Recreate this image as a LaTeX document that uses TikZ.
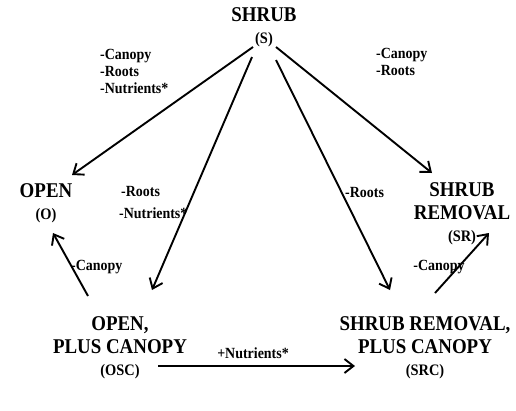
\documentclass[tikz,border=0pt]{standalone}
\usepackage{fontspec}
\setmainfont[FakeStretch=0.9]{Liberation Serif}
\usetikzlibrary{arrows.meta, positioning}

\begin{document}
\begin{tikzpicture}[
        x=1pt, y=-1pt,
        font=\bfseries,
        state/.style={align=center, inner sep=0pt, font=\bfseries\fontsize{21}{22.5}\selectfont},
        abbr/.style={},
        effect/.style={align=left, inner sep=0pt, font=\bfseries\fontsize{15.5}{17}\selectfont},
        arr/.style={line width=1.9pt, -{Straight Barb[length=9pt, width=14pt, line width=1.9pt]}}
    ]
    \useasboundingbox (0,0) rectangle (516,410);

    % --- Nodes ---
    \node[state] (s) at (264,27) {SHRUB\\{\fontsize{16}{22.5}\selectfont (S)}};
    \node[state] (o) at (46,203) {OPEN\\{\fontsize{16}{22.5}\selectfont (O)}};
    \node[state] (sr) at (462,214) {SHRUB\\REMOVAL\\{\fontsize{16}{22.5}\selectfont (SR)}};
    \node[state] (osc) at (120,348) {OPEN,\\PLUS CANOPY\\{\fontsize{16}{22.5}\selectfont (OSC)}};
    \node[state] (src) at (425,348) {SHRUB REMOVAL,\\PLUS CANOPY\\{\fontsize{16}{22.5}\selectfont (SRC)}};

    % --- Connections ---
    \draw[arr] ([shift={(-11,20)}]s.center) -- ([shift={(26,-28)}]o.center);
    \draw[arr] ([shift={(-12,30)}]s.center) -- ([shift={(32,-58)}]osc.center);
    \draw[arr] ([shift={(12,33)}]s.center) -- ([shift={(-35,-58)}]src.center);
    \draw[arr] ([shift={(12,20)}]s.center) -- ([shift={(-30,-41)}]sr.center);
    \draw[arr] ([shift={(-32,-52)}]osc.center) -- ([shift={(7,30)}]o.center);
    \draw[arr] ([shift={(10,-55)}]src.center) -- ([shift={(27,19)}]sr.center);
    \draw[arr] ([shift={(38,18)}]osc.center) -- ([shift={(-70,18)}]src.center);

    % --- Labels ---
    \node[effect, anchor=west] (lbl_so) at (100,71) {-Canopy\\-Roots\\-Nutrients*};
    \node[effect, anchor=west] (lbl_ssr) at (376,62) {-Canopy\\-Roots};
    \node[effect, anchor=west, font=\bfseries\fontsize{15.5}{22}\selectfont] (lbl_sosc) at (119,203) {\hspace{2pt}-Roots\\-Nutrients*};
    \node[effect, anchor=west] (lbl_ssrc) at (345,192) {-Roots};
    \node[effect, anchor=west] (lbl_osco) at (71,267) {-Canopy};
    \node[effect] (lbl_srcsr) at (439,267) {-Canopy};
    \node[effect] (lbl_oscsrc) at (253,353) {+Nutrients*};

\end{tikzpicture}
\end{document}
